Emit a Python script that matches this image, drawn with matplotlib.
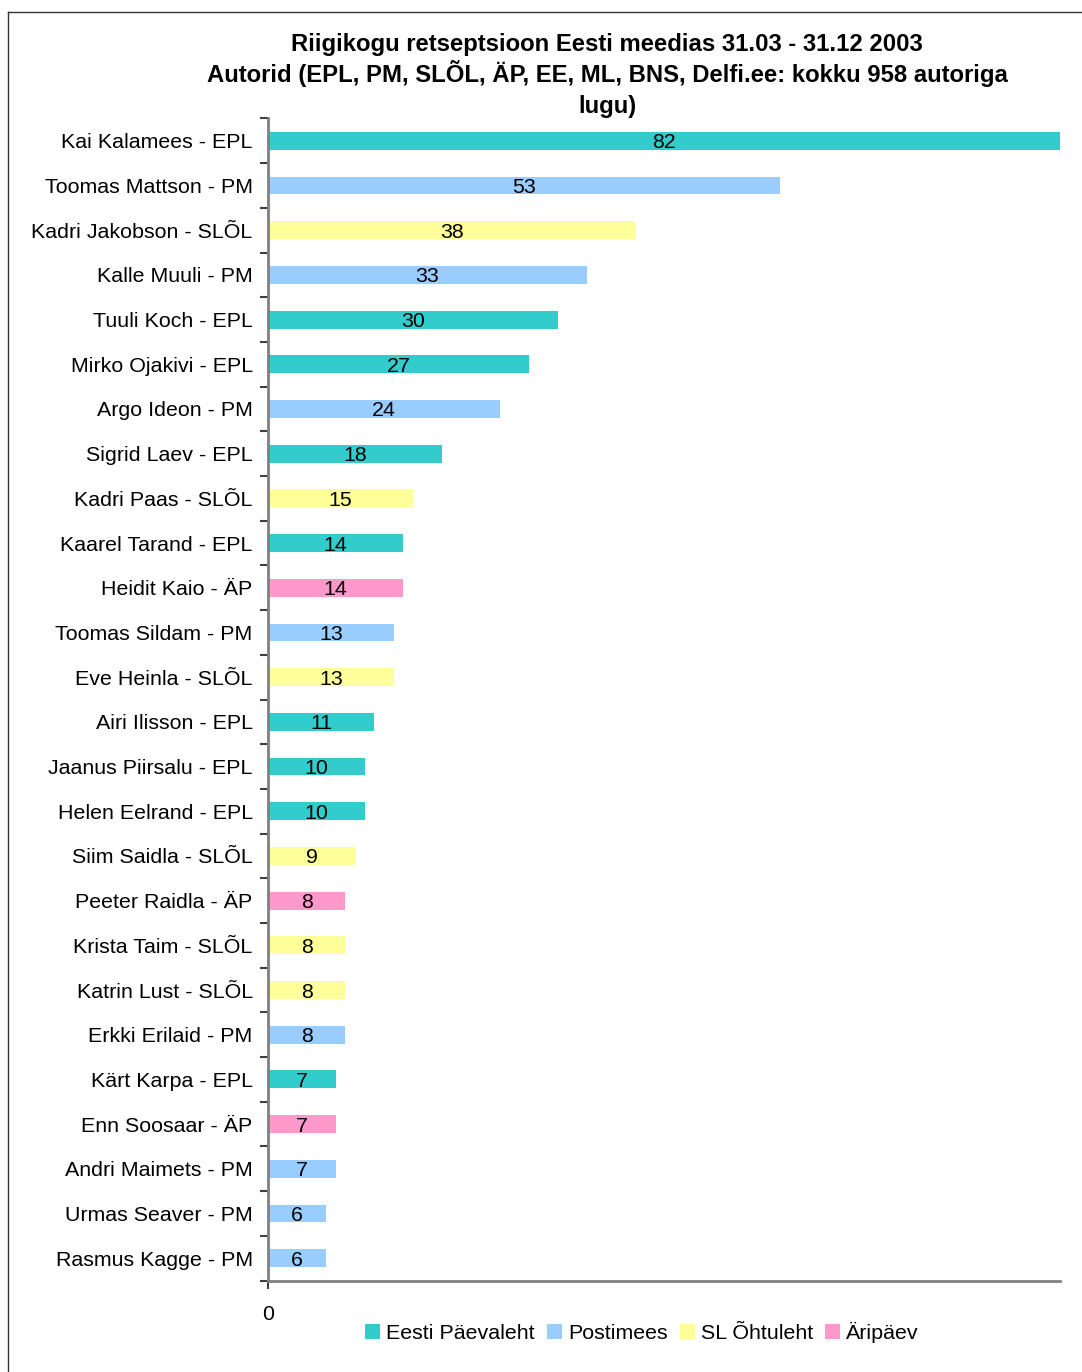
import matplotlib
matplotlib.use("Agg")
import matplotlib.pyplot as plt
from matplotlib.patches import Patch
from matplotlib.lines import Line2D

plt.rcParams['font.family'] = ['Liberation Sans', 'DejaVu Sans']

names = ["Kai Kalamees - EPL", "Toomas Mattson - PM", "Kadri Jakobson - SLÕL",
         "Kalle Muuli - PM", "Tuuli Koch - EPL", "Mirko Ojakivi - EPL",
         "Argo Ideon - PM", "Sigrid Laev - EPL", "Kadri Paas - SLÕL",
         "Kaarel Tarand - EPL", "Heidit Kaio - ÄP", "Toomas Sildam - PM",
         "Eve Heinla - SLÕL", "Airi Ilisson - EPL", "Jaanus Piirsalu - EPL",
         "Helen Eelrand - EPL", "Siim Saidla - SLÕL", "Peeter Raidla - ÄP",
         "Krista Taim - SLÕL", "Katrin Lust - SLÕL", "Erkki Erilaid - PM",
         "Kärt Karpa - EPL", "Enn Soosaar - ÄP", "Andri Maimets - PM",
         "Urmas Seaver - PM", "Rasmus Kagge - PM"]
values = [82, 53, 38, 33, 30, 27, 24, 18, 15, 14, 14, 13, 13, 11, 10, 10,
          9, 8, 8, 8, 8, 7, 7, 7, 6, 6]
outlets = ["EPL", "PM", "SLÕL", "PM", "EPL", "EPL", "PM", "EPL", "SLÕL",
           "EPL", "ÄP", "PM", "SLÕL", "EPL", "EPL", "EPL", "SLÕL", "ÄP",
           "SLÕL", "SLÕL", "PM", "EPL", "ÄP", "PM", "PM", "PM"]
legend_codes = ["EPL", "PM", "SLÕL", "ÄP"]
legend_labels = ["Eesti Päevaleht", "Postimees", "SL Õhtuleht", "Äripäev"]
title_lines = ["Riigikogu retseptsioon Eesti meedias 31.03 - 31.12 2003",
               "Autorid (EPL, PM, SLÕL, ÄP, EE, ML, BNS, Delfi.ee: kokku 958 autoriga",
               "lugu)"]

colors = {"EPL": "#33CCCC", "PM": "#99CCFF", "SLÕL": "#FFFF99", "ÄP": "#FF99CC"}

W, H = 1082, 1372
fig = plt.figure(figsize=(W / 100, H / 100), dpi=100)
ax = fig.add_axes([268 / W, 1 - 1280.5 / H, (1060 - 268) / W, (1280.5 - 118.5) / H])

n = len(names)
ypos = list(range(n))
ax.barh(ypos, values, height=0.4, color=[colors[o] for o in outlets])
for y, v in zip(ypos, values):
    ax.text(v / 2, y, str(v), ha='center', va='center_baseline', fontsize=15.4, color='black')

ax.set_ylim(n - 0.5, -0.5)
ax.set_xlim(0, 82)
ax.set_yticks(ypos)
ax.set_yticklabels(names, fontsize=15.4)
ax.tick_params(axis='y', which='major', length=0, pad=11)
ax.set_yticks([i - 0.5 for i in range(n + 1)], minor=True)
ax.tick_params(axis='y', which='minor', length=6, width=1.5, color='#404040', direction='out')
ax.set_xticks([0])
ax.set_xticklabels(["0"], fontsize=15.4)
ax.tick_params(axis='x', length=6, width=1.5, color='#404040', pad=12)

for s in ['top', 'right']:
    ax.spines[s].set_visible(False)
for s in ['left', 'bottom']:
    ax.spines[s].set_color('#808080')
    ax.spines[s].set_linewidth(2)

for i, line in enumerate(title_lines):
    fig.text(607 / W, 1 - (50.5 + i * 31.5) / H, line, ha='center', va='baseline',
             fontsize=17.2, fontweight='bold')

handles = [Patch(facecolor=colors[c], edgecolor='none') for c in legend_codes]
fig.legend(handles, legend_labels, loc='center', bbox_to_anchor=(642 / W, 1 - 1332 / H),
           ncol=4, frameon=False, fontsize=15.4, handlelength=0.7, handleheight=0.7,
           handletextpad=0.3, columnspacing=0.55, borderaxespad=0)

fig.add_artist(Line2D([8 / W, 1], [1 - 12 / H, 1 - 12 / H], color='#333333', lw=1))
fig.add_artist(Line2D([8 / W, 8 / W], [0, 1 - 12 / H], color='#333333', lw=1))

fig.savefig("out.png", dpi=100)
